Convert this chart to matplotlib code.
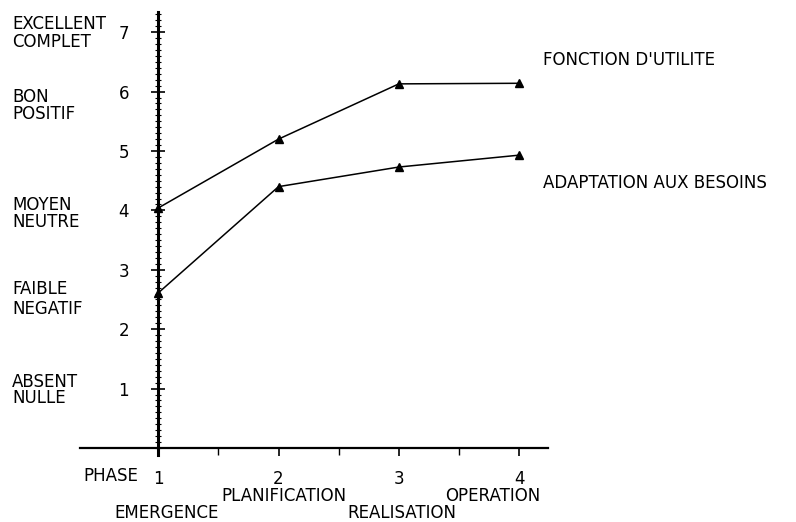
import matplotlib
matplotlib.use('Agg')
from matplotlib import pyplot as plt
from matplotlib.ticker import MultipleLocator, FixedLocator

# données
phases = [1, 2, 3, 4]
phase_ticks = ['1', '2', '3', '4']
demi_phases = [1.5, 2.5, 3.5]
utilite = [4.04, 5.20, 6.13, 6.14]
adaptation = [2.61, 4.40, 4.73, 4.93]
niveaux = [7, 6, 5, 4, 3, 2, 1]
niveaux_txt = ['EXCELLENT\nCOMPLET', 'BON\nPOSITIF', 'MOYEN\nNEUTRE',
               'FAIBLE\nNEGATIF', 'ABSENT\nNULLE']
niveaux_y = [(24, 42), (97, 114), (205, 222), (288, 310), (382, 398)]
phases_txt = [('EMERGENCE', 167, 513), ('PLANIFICATION', 284, 496),
              ('REALISATION', 402, 513), ('OPERATION', 493, 496)]

W, H = 796, 522
fs = 12
plt.rcParams['font.family'] = 'DejaVu Sans'

fig = plt.figure(figsize=(W / 100, H / 100), dpi=100)
ax = fig.add_axes([80 / W, 74 / H, 468 / W, 436 / H])

ax.set_xlim(0.35, 4.24)
ax.set_ylim(0, 7.34)

# courbes
ax.plot(phases, utilite, color='black', lw=1.1, marker='^', ms=6, clip_on=False, zorder=5)
ax.plot(phases, adaptation, color='black', lw=1.1, marker='^', ms=6, clip_on=False, zorder=5)

# axes
for s in ['top', 'right']:
    ax.spines[s].set_visible(False)
ax.spines['bottom'].set_linewidth(1.6)
ax.plot([1, 1], [-0.12, 7.34], color='black', lw=2.2, clip_on=False, zorder=4)

ax.spines['left'].set_position(('data', 1))
ax.spines['left'].set_linewidth(0)

ax.set_yticks(niveaux)
ax.set_yticklabels([str(n) for n in niveaux])
ax.yaxis.set_minor_locator(MultipleLocator(0.1))
ax.tick_params(axis='y', which='major', direction='inout', length=10, width=1.2, pad=16, labelsize=fs)
ax.tick_params(axis='y', which='minor', direction='inout', length=4, width=0.8)

ax.set_xticks(phases)
ax.set_xticklabels(phase_ticks)
ax.xaxis.set_minor_locator(FixedLocator(demi_phases))
ax.tick_params(axis='x', which='major', direction='out', length=6, width=1.2, pad=10, labelsize=fs)
ax.tick_params(axis='x', which='minor', direction='out', length=5, width=1.0)

# textes
fig.text(83 / W, 1 - 476 / H, 'PHASE', fontsize=fs, ha='left', va='center')
for t, (y1, y2) in zip(niveaux_txt, niveaux_y):
    ls = (y2 - y1) / (fs * 100 / 72) * 0.86
    fig.text(12 / W, 1 - (y1 + y2) / 2 / H, t, fontsize=fs, ha='left', va='center',
             linespacing=ls)
for t, x, y in phases_txt:
    fig.text(x / W, 1 - y / H, t, fontsize=fs, ha='center', va='center')

fig.text(543 / W, 1 - 60 / H, "FONCTION D'UTILITE", fontsize=fs, ha='left', va='center')
fig.text(543 / W, 1 - 183 / H, 'ADAPTATION AUX BESOINS', fontsize=fs, ha='left', va='center')

fig.savefig('out.png', dpi=100)
